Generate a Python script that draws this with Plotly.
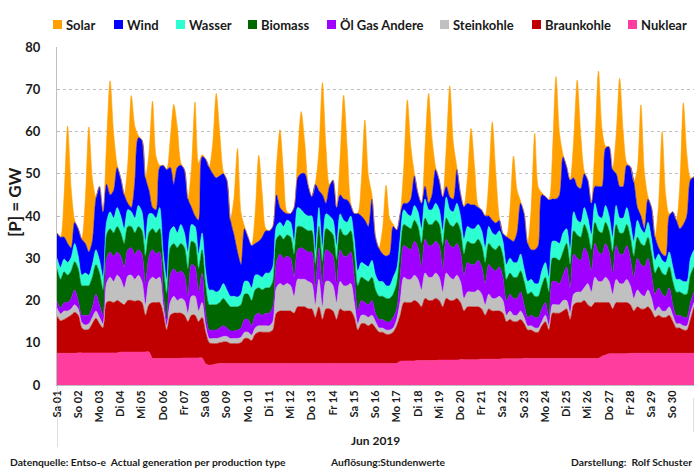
import plotly.graph_objects as go

# ---------------- data (GW, sampled every 4 h from 1 Jun 2019 00:00) ----------------
day_labels = ["Sa 01", "So 02", "Mo 03", "Di 04", "Mi 05", "Do 06", "Fr 07", "Sa 08", "So 09", "Mo 10",
              "Di 11", "Mi 12", "Do 13", "Fr 14", "Sa 15", "So 16", "Mo 17", "Di 18", "Mi 19", "Do 20",
              "Fr 21", "Sa 22", "So 23", "Mo 24", "Di 25", "Mi 26", "Do 27", "Fr 28", "Sa 29", "So 30"]
hours = list(range(0, 721, 4))

nuklear = [
    7.5, 7.5, 7.5, 7.5, 7.5, 7.5,  7.6, 7.6, 7.6, 7.6, 7.6, 7.6,  7.6, 7.6, 7.6, 7.6, 7.6, 7.6,
    7.8, 7.8, 7.8, 7.8, 7.8, 7.8,  7.8, 7.8, 7.8, 6.3, 6.3, 6.3,  6.3, 6.3, 6.3, 6.3, 6.3, 6.3,
    6.4, 6.4, 6.4, 6.4, 6.4, 6.4,  5.0, 4.7, 4.8, 5.0, 5.1, 5.1,  5.1, 5.1, 5.1, 5.1, 5.1, 5.1,
    5.1, 5.1, 5.1, 5.1, 5.1, 5.1,  5.1, 5.1, 5.1, 5.1, 5.1, 5.1,  5.1, 5.1, 5.1, 5.1, 5.1, 5.1,
    5.1, 5.1, 5.1, 5.1, 5.1, 5.1,  5.1, 5.1, 5.1, 5.1, 5.1, 5.1,  5.1, 5.1, 5.1, 5.1, 5.1, 5.1,
    5.1, 5.1, 5.1, 5.1, 5.1, 5.1,  5.1, 5.6, 5.7, 5.7, 5.7, 5.7,  5.8, 5.8, 5.8, 5.8, 5.8, 5.8,
    5.9, 5.9, 5.9, 5.9, 5.9, 5.9,  6.0, 6.0, 6.0, 6.0, 6.0, 6.0,  6.1, 6.1, 6.1, 6.1, 6.1, 6.1,
    6.2, 6.2, 6.2, 6.2, 6.2, 6.2,  6.3, 6.3, 6.3, 6.3, 6.3, 6.3,  6.3, 6.3, 6.3, 6.3, 6.3, 6.3,
    6.3, 6.3, 6.3, 6.3, 6.3, 6.3,  6.3, 6.3, 6.3, 6.3, 6.8, 7.1,  7.4, 7.4, 7.4, 7.4, 7.4, 7.4,
    7.5, 7.5, 7.5, 7.5, 7.5, 7.5,  7.5, 7.5, 7.5, 7.5, 7.5, 7.5,  7.5, 7.5, 7.5, 7.5, 7.5, 7.5,
    7.5]

braunkohle = [
    8.8, 7.7, 8.0, 8.5, 9.0, 9.7,  8.9, 5.9, 5.4, 5.6, 6.9, 8.2,  6.9, 5.9, 11.9, 12.2, 11.9, 12.4,
    11.7, 11.2, 12.2, 12.2, 12.0, 12.2,  11.7, 8.7, 11.2, 13.2, 13.2, 13.2,  10.7, 6.7, 10.2, 10.7, 10.7, 10.7,
    10.1, 8.6, 10.1, 10.1, 8.6, 9.6,  7.5, 5.3, 5.0, 4.8, 4.9, 5.1,  5.1, 4.7, 4.7, 4.7, 4.9, 5.9,
    5.9, 5.4, 6.9, 7.4, 7.4, 7.4,  7.4, 7.9, 11.9, 12.4, 12.4, 12.4,  12.4, 11.9, 13.4, 13.4, 13.4, 12.9,
    12.9, 10.9, 13.4, 10.4, 12.9, 12.9,  12.4, 10.4, 12.9, 12.4, 12.4, 12.4,  10.9, 7.9, 9.4, 9.4, 8.9, 9.4,
    8.4, 7.4, 7.4, 6.9, 6.9, 7.4,  8.9, 10.9, 13.8, 13.8, 13.8, 14.3,  13.7, 12.7, 14.7, 14.2, 14.2, 14.7,
    14.1, 12.6, 14.6, 14.1, 14.1, 14.6,  13.5, 11.5, 12.5, 12.5, 12.5, 12.5,  11.9, 10.4, 11.9, 11.4, 11.4, 11.4,
    10.8, 8.8, 9.3, 8.8, 8.8, 9.3,  8.2, 6.7, 6.7, 6.2, 6.2, 7.7,  8.7, 6.7, 10.7, 10.7, 10.7, 11.2,
    11.7, 9.2, 12.7, 13.2, 13.2, 13.7,  12.7, 12.2, 13.2, 13.2, 12.7, 12.4,  12.1, 10.6, 12.1, 12.1, 12.1, 12.1,
    11.5, 10.0, 11.0, 10.5, 10.5, 11.0,  10.0, 8.5, 9.0, 8.5, 8.5, 9.0,  7.5, 6.0, 6.0, 5.5, 5.5, 8.0,
    11.0]

steinkohle = [
    1.9, 1.6, 2.0, 1.5, 1.5, 1.8,  1.5, 1.3, 1.2, 1.3, 1.5, 1.7,  1.5, 1.0, 4.5, 5.7, 5.0, 6.0,
    5.5, 4.0, 5.8, 6.0, 5.2, 6.0,  5.0, 2.5, 5.5, 6.0, 5.5, 6.0,  2.0, 1.0, 3.0, 4.0, 3.0, 3.5,
    3.5, 2.0, 4.5, 4.5, 2.5, 3.5,  1.5, 1.0, 1.2, 1.2, 1.2, 1.3,  1.3, 1.2, 1.2, 1.2, 1.3, 1.5,
    1.5, 1.3, 1.5, 1.5, 1.5, 1.5,  1.5, 2.0, 6.0, 6.5, 6.0, 6.5,  6.0, 4.0, 6.5, 6.5, 6.5, 6.5,
    6.0, 3.0, 6.5, 3.0, 6.5, 6.5,  6.0, 4.0, 6.5, 6.0, 6.0, 6.5,  3.5, 1.5, 2.0, 2.0, 2.0, 2.0,
    1.5, 1.0, 1.0, 1.0, 1.0, 1.0,  1.5, 3.5, 6.0, 5.5, 5.5, 6.0,  5.5, 4.0, 6.0, 5.5, 5.5, 6.0,
    5.5, 3.5, 6.0, 5.5, 5.0, 5.5,  5.0, 3.0, 3.5, 3.5, 3.5, 4.0,  3.5, 2.5, 3.5, 3.0, 3.0, 3.5,
    3.0, 1.5, 2.0, 1.5, 1.5, 2.0,  1.5, 1.0, 1.0, 1.0, 1.0, 1.0,  1.5, 1.0, 2.0, 2.0, 2.0, 2.5,
    2.0, 1.5, 2.5, 2.5, 2.5, 3.0,  5.0, 3.5, 6.0, 5.0, 5.0, 6.0,  5.0, 3.5, 5.5, 4.5, 4.5, 5.5,
    4.5, 3.0, 4.0, 3.5, 3.0, 4.0,  3.0, 1.5, 2.0, 1.5, 1.5, 2.0,  1.5, 1.0, 1.0, 1.0, 1.0, 1.5,
    1.0]

oel_gas_andere = [
    1.6, 1.4, 2.0, 2.0, 2.5, 3.5,  2.0, 1.7, 2.3, 2.0, 2.5, 4.0,  3.0, 2.0, 6.0, 6.0, 6.0, 5.5,
    5.5, 5.0, 6.2, 6.5, 6.0, 6.0,  6.5, 5.0, 6.0, 6.5, 6.0, 6.0,  3.0, 1.5, 6.5, 6.5, 6.5, 6.5,
    6.0, 4.0, 7.5, 7.0, 4.5, 7.0,  3.0, 2.0, 2.0, 2.0, 2.3, 2.5,  2.0, 1.8, 1.8, 2.0, 2.2, 3.0,
    3.0, 2.2, 3.0, 3.0, 2.5, 3.0,  3.0, 3.5, 6.0, 7.0, 6.5, 6.5,  6.5, 4.5, 7.0, 7.5, 7.0, 7.0,
    7.5, 4.0, 7.5, 5.0, 7.5, 7.0,  7.0, 4.5, 7.5, 7.0, 7.0, 7.5,  6.0, 3.0, 3.5, 3.0, 3.0, 3.5,
    2.0, 2.0, 2.0, 2.0, 2.0, 2.5,  2.5, 6.0, 7.5, 7.5, 7.0, 8.0,  7.5, 5.5, 8.0, 7.5, 7.5, 7.5,
    7.5, 5.5, 8.0, 7.5, 7.5, 7.5,  7.0, 5.5, 7.0, 6.5, 6.5, 7.0,  6.5, 5.0, 7.0, 7.0, 6.5, 7.0,
    5.5, 3.5, 4.0, 4.0, 4.0, 4.5,  3.0, 2.0, 2.5, 2.5, 2.5, 3.0,  3.0, 2.0, 5.5, 5.5, 5.0, 6.0,
    8.0, 6.0, 9.5, 8.0, 7.5, 9.5,  7.0, 5.0, 8.0, 7.0, 6.5, 8.0,  7.0, 5.0, 8.0, 7.0, 7.0, 8.0,
    6.5, 5.0, 7.5, 7.0, 7.0, 7.5,  5.5, 4.0, 4.5, 4.0, 3.5, 4.5,  2.5, 2.0, 2.0, 2.0, 2.0, 2.5,
    2.5]

biomass = [
    7.7, 6.8, 7.3, 6.5, 6.5, 6.7,  7.5, 7.0, 7.0, 7.0, 7.0, 7.0,  7.5, 6.0, 5.5, 5.5, 5.5, 6.0,
    5.5, 5.5, 5.5, 5.0, 5.0, 5.5,  5.5, 6.5, 5.5, 5.0, 5.0, 5.5,  6.5, 6.0, 6.5, 6.0, 6.0, 6.5,
    6.5, 6.5, 5.5, 5.5, 5.5, 5.5,  6.5, 6.0, 6.0, 6.0, 6.0, 6.5,  6.0, 5.7, 5.7, 5.5, 5.5, 6.0,
    6.0, 6.0, 6.0, 6.0, 6.0, 6.0,  6.0, 6.0, 5.5, 4.5, 4.5, 5.0,  5.0, 5.5, 5.5, 5.0, 5.0, 5.0,
    5.0, 5.5, 5.0, 5.5, 5.0, 5.0,  5.0, 5.5, 5.0, 5.0, 5.0, 5.0,  5.5, 6.0, 5.5, 5.5, 5.5, 5.5,
    5.5, 5.5, 5.5, 5.5, 5.5, 5.5,  6.0, 5.5, 5.0, 5.0, 5.0, 5.0,  5.0, 5.5, 5.0, 5.0, 5.0, 5.0,
    5.0, 5.5, 5.0, 5.0, 5.0, 5.0,  5.0, 5.0, 5.0, 5.0, 5.0, 5.0,  5.0, 5.0, 5.0, 5.0, 5.0, 5.0,
    5.0, 5.0, 5.0, 5.0, 5.0, 5.0,  5.5, 5.5, 5.5, 5.0, 5.0, 5.5,  6.0, 6.0, 5.5, 5.5, 5.5, 5.5,
    5.5, 5.5, 5.5, 5.5, 5.5, 5.5,  5.0, 5.0, 5.0, 5.0, 5.0, 5.0,  5.0, 5.0, 5.0, 5.0, 5.0, 5.0,
    5.0, 5.0, 5.0, 5.0, 5.0, 5.0,  5.0, 5.0, 5.0, 5.0, 5.0, 5.0,  5.5, 5.5, 5.5, 5.5, 5.5, 6.5,
    6.0]

wasser = [
    2.5, 2.8, 3.0, 3.0, 3.2, 4.3,  3.0, 2.5, 3.0, 2.5, 3.0, 3.5,  3.0, 3.0, 3.0, 4.0, 3.5, 4.5,
    4.0, 3.5, 4.0, 3.5, 3.5, 5.0,  4.5, 3.5, 4.5, 3.5, 3.5, 5.0,  3.0, 3.5, 4.0, 4.0, 3.5, 4.5,
    3.5, 4.0, 4.0, 4.0, 3.5, 4.0,  3.5, 3.5, 3.5, 3.0, 3.0, 3.5,  3.0, 2.5, 2.5, 2.3, 2.5, 3.0,
    3.0, 3.0, 3.5, 3.0, 3.0, 3.5,  3.5, 3.5, 3.0, 3.0, 3.0, 3.5,  3.5, 3.0, 4.5, 4.0, 3.5, 3.5,
    3.5, 3.0, 4.5, 3.5, 3.5, 3.5,  3.5, 3.5, 3.5, 3.5, 3.0, 3.5,  3.5, 3.5, 3.5, 3.5, 3.5, 4.0,
    3.5, 3.5, 3.5, 3.0, 3.0, 4.0,  3.5, 3.5, 3.5, 3.0, 3.0, 3.5,  3.5, 3.5, 4.5, 3.5, 3.5, 4.0,
    3.5, 3.5, 5.0, 3.5, 3.5, 4.5,  3.5, 3.5, 3.5, 3.5, 3.5, 3.5,  3.5, 3.5, 4.0, 3.5, 3.5, 3.5,
    3.5, 3.5, 3.5, 3.5, 3.5, 4.0,  3.0, 3.0, 3.0, 3.0, 3.0, 3.5,  3.5, 3.5, 4.0, 4.0, 4.0, 4.5,
    3.5, 3.5, 4.5, 3.5, 3.5, 4.0,  3.5, 3.5, 4.5, 3.5, 3.5, 4.0,  3.5, 3.5, 4.5, 3.5, 3.5, 4.0,
    3.5, 3.5, 4.0, 3.5, 3.0, 3.5,  3.5, 3.0, 3.0, 3.0, 3.0, 3.5,  3.5, 3.0, 3.0, 3.0, 3.0, 4.0,
    4.0]

wind = [
    6.0, 7.2, 5.2, 4.5, 2.3, 5.0,  6.5, 8.5, 7.0, 5.5, 5.5, 12.0,  17.5, 15.5, 9.0, 4.0, 6.5, 9.5,
    9.0, 8.0, 1.5, 1.0, 8.5, 16.0,  17.0, 15.0, 5.5, 1.5, 2.0, 9.5,  20.5, 26.0, 15.0, 10.0, 15.5, 14.0,
    15.0, 12.5, 4.0, 2.5, 8.0, 18.0,  26.5, 29.0, 27.5, 27.0, 27.0, 26.0,  26.0, 18.0, 14.5, 10.7, 7.0, 12.5,
    10.5, 10.0, 7.5, 8.0, 9.5, 10.0,  10.0, 9.5, 7.5, 3.5, 3.5, 1.5,  2.1, 8.0, 7.0, 8.5, 9.5, 7.0,
    4.6, 16.0, 4.0, 12.5, 2.5, 7.0,  9.5, 9.0, 4.5, 5.0, 5.3, 2.5,  6.1, 13.6, 11.0, 10.5, 9.5, 14.5,
    9.0, 7.8, 6.5, 7.0, 7.5, 12.0,  9.2, 5.6, 1.5, 2.5, 4.0, 7.0,  4.4, 6.0, 3.0, 1.5, 3.5, 8.0,
    7.0, 8.0, 2.5, 3.0, 3.0, 8.0,  5.4, 7.7, 5.5, 5.6, 5.6, 4.0,  4.9, 7.5, 2.5, 3.0, 2.8, 2.5,
    1.9, 6.6, 4.5, 5.0, 7.0, 12.0,  13.1, 9.0, 7.0, 8.0, 9.0, 18.0,  15.6, 18.3, 10.0, 10.0, 11.5, 18.0,
    14.7, 16.5, 8.0, 8.0, 8.0, 8.0,  9.0, 7.5, 4.0, 7.0, 7.5, 13.5,  16.4, 16.0, 7.5, 7.5, 7.5, 10.0,
    13.2, 14.0, 3.0, 3.0, 1.0, 5.5,  7.5, 5.5, 1.5, 1.5, 1.5, 8.5,  13.0, 14.0, 12.0, 13.5, 15.5, 18.5,
    17.3]

solar = [
    0, 0.1, 9.7, 27.8, 13.9, 0.5,  0, 0.1, 10.4, 29.6, 14.8, 0.5,  0, 0.1, 9.5, 27.0, 13.5, 0.5,
    0, 0.1, 9.3, 26.5, 13.2, 0.5,  0, 0.1, 8.8, 25.2, 12.6, 0.5,  0, 0.1, 6.6, 18.9, 9.5, 0.5,
    0, 0.1, 9.5, 27.0, 13.5, 0.5,  0, 0.1, 7.0, 20.0, 10.0, 0.5,  0, 0.1, 8.6, 24.5, 12.2, 0.5,
    0, 0.1, 7.1, 20.4, 10.2, 0.5,  0, 0.1, 6.4, 18.4, 9.2, 0.5,  0, 0.1, 5.2, 14.7, 7.4, 0.5,
    0, 0.1, 9.3, 26.6, 13.3, 0.5,  0, 0.1, 8.6, 24.6, 12.3, 0.5,  0, 0.1, 8.3, 23.7, 11.9, 1.0,
    0, 0.1, 5.9, 16.8, 8.4, 0.5,  0, 0.1, 8.6, 24.5, 12.3, 0.5,  0, 0.1, 9.1, 26.0, 13.0, 0.5,
    0, 0.1, 9.2, 26.3, 13.2, 0.5,  0, 0.1, 6.3, 18.1, 9.0, 0.5,  0, 0.1, 8.2, 23.3, 11.7, 0.5,
    0, 0.1, 7.1, 20.2, 10.1, 0.5,  0, 0.1, 9.7, 27.6, 13.8, 0.5,  0, 0.1, 10.2, 29.0, 14.5, 0.5,
    0, 0.1, 8.8, 25.2, 12.6, 0.5,  0, 0.1, 9.6, 27.3, 13.7, 0.5,  0, 0.1, 9.0, 25.6, 12.8, 0.5,
    0, 0.1, 9.2, 26.3, 13.2, 0.5,  0, 0.1, 10.2, 29.0, 14.5, 0.5,  0, 0.1, 10.1, 28.8, 14.4, 0.5,
    0]

series = [
    ("Nuklear", nuklear, "#FF3D9E"),
    ("Braunkohle", braunkohle, "#C00000"),
    ("Steinkohle", steinkohle, "#C0C0C0"),
    ("Öl Gas Andere", oel_gas_andere, "#9F00FF"),
    ("Biomass", biomass, "#006600"),
    ("Wasser", wasser, "#2EFFD2"),
    ("Wind", wind, "#0000FF"),
    ("Solar", solar, "#FFA000"),
]
for name, vals, _ in series:
    assert len(vals) == len(hours), (name, len(vals))

FONT = "Lato"
TXT = "#1a1a1a"

# plot-area geometry in pixels (for placing legend / footer text)
L, R, T, B = 57, 6, 47, 87
PW, PH = 700 - L - R, 472 - T - B


def px(xp):
    return (xp - L) / PW


def py(yp):
    return (472 - B - yp) / PH


fig = go.Figure()
for name, vals, col in series:
    fig.add_trace(go.Scatter(
        x=hours, y=vals, name=name, mode="lines", stackgroup="one",
        line=dict(width=0.6, color=col, shape="spline", smoothing=0.8),
        fillcolor=col, hoverinfo="skip", showlegend=False,
    ))

fig.update_layout(
    width=700, height=472,
    margin=dict(l=L, r=R, t=T, b=B),
    paper_bgcolor="white", plot_bgcolor="white",
    font=dict(family=FONT, color=TXT),
    showlegend=False,
    xaxis=dict(range=[0, 720], tickmode="array", tickvals=[24 * i for i in range(len(day_labels))],
               ticktext=day_labels, tickangle=-90, tickfont=dict(family=FONT, size=11, weight="bold"),
               showgrid=False, zeroline=False, showline=True, linecolor="#BFBFBF", linewidth=1, ticks=""),
    yaxis=dict(range=[0, 80], dtick=10, showgrid=True, gridcolor="#BDBDBD", griddash="dot", gridwidth=1,
               zeroline=False, showline=True, linecolor="#BFBFBF", linewidth=1,
               ticks="outside", ticklen=13, tickcolor="rgba(0,0,0,0)",
               tickfont=dict(family=FONT, size=13, weight="bold")),
)

# legend row (Solar ... Nuklear, left to right) with small square keys
legend_left_px = [53, 114, 176, 248, 327, 440, 532, 628]
for (name, _, col), xl in zip(reversed(series), legend_left_px):
    fig.add_shape(type="rect", xref="paper", yref="paper",
                  x0=px(xl), x1=px(xl + 9), y0=py(29), y1=py(20),
                  fillcolor=col, line=dict(width=0))
    fig.add_annotation(text=name, xref="paper", yref="paper", x=px(xl + 11), y=py(24.5),
                       xanchor="left", yanchor="middle", showarrow=False,
                       font=dict(family=FONT, size=13, weight="bold", color=TXT))

fig.add_shape(type="line", xref="x", yref="paper", x0=0, x1=0, y0=0, y1=py(447),
              line=dict(color="#BFBFBF", width=1))
fig.add_shape(type="line", xref="x", yref="paper", x0=720, x1=720, y0=py(398), y1=py(432),
              line=dict(color="#BFBFBF", width=1))

fig.add_annotation(text="[P] = GW", xref="paper", yref="paper", x=px(14), y=py(203),
                   xanchor="center", yanchor="middle", textangle=-90, showarrow=False,
                   font=dict(family=FONT, size=17, weight="bold", color=TXT))
fig.add_annotation(text="Jun 2019", xref="paper", yref="paper", x=0.5, y=py(440),
                   xanchor="center", yanchor="middle", showarrow=False,
                   font=dict(family=FONT, size=12, weight="bold", color=TXT))
foot = dict(family=FONT, size=10.3, weight="bold", color=TXT)
fig.add_annotation(text="Datenquelle: Entso-e  Actual generation per production type",
                   xref="paper", yref="paper", x=px(8), y=py(462), xanchor="left", yanchor="middle",
                   showarrow=False, font=foot)
fig.add_annotation(text="Auflösung:Stundenwerte", xref="paper", yref="paper", x=px(328), y=py(462),
                   xanchor="left", yanchor="middle", showarrow=False, font=foot)
fig.add_annotation(text="Darstellung:  Rolf Schuster", xref="paper", yref="paper", x=px(694), y=py(462),
                   xanchor="right", yanchor="middle", showarrow=False, font=foot)

fig.write_html("out.html")
